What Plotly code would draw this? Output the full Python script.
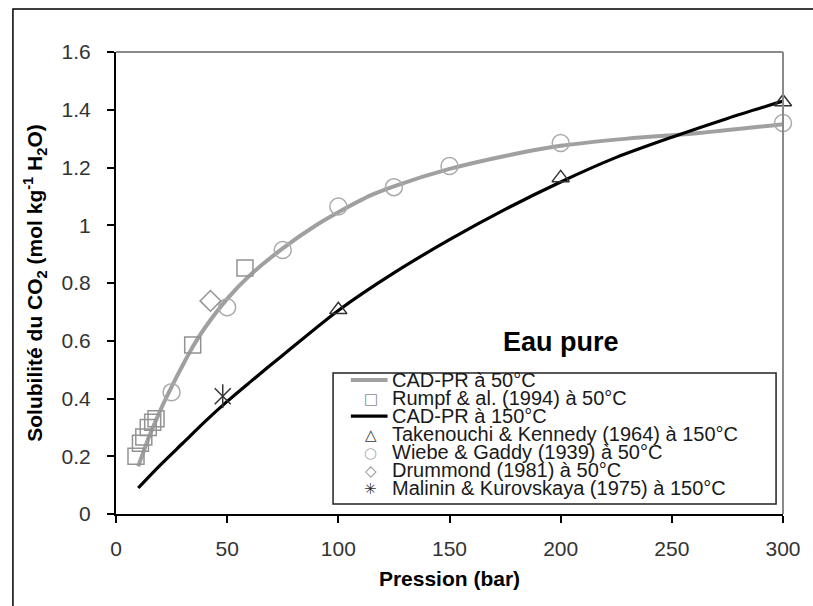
import plotly.graph_objects as go

# CAD-PR model at 50 °C
model50_p = [10, 15, 20, 25, 30, 35, 40, 50, 60, 75, 90, 100, 115, 125, 150, 175, 200, 230, 260, 300]
model50_s = [0.165, 0.27, 0.36, 0.44, 0.515, 0.585, 0.645, 0.745, 0.825, 0.92, 1.0, 1.045, 1.105, 1.135,
             1.195, 1.24, 1.275, 1.30, 1.318, 1.35]

# CAD-PR model at 150 °C
model150_p = [10, 20, 30, 40, 50, 60, 75, 100, 125, 150, 175, 200, 225, 250, 275, 300]
model150_s = [0.09, 0.17, 0.245, 0.32, 0.39, 0.455, 0.55, 0.705, 0.835, 0.95, 1.055, 1.15, 1.235, 1.305,
              1.37, 1.43]

# Rumpf & al. (1994) at 50 °C
rumpf_p = [9, 11, 12.5, 14.5, 16.5, 18, 34.5, 58]
rumpf_s = [0.20, 0.245, 0.267, 0.30, 0.318, 0.33, 0.585, 0.852]

# Takenouchi & Kennedy (1964) at 150 °C
taken_p = [100, 200, 300]
taken_s = [0.707, 1.164, 1.427]

# Wiebe & Gaddy (1939) at 50 °C
wiebe_p = [25, 50, 75, 100, 125, 150, 200, 300]
wiebe_s = [0.422, 0.716, 0.914, 1.065, 1.132, 1.205, 1.285, 1.354]

# Drummond (1981) at 50 °C
drum_p = [42.5]
drum_s = [0.738]

# Malinin & Kurovskaya (1975) at 150 °C
malin_p = [48]
malin_s = [0.408]

# Legend entries
legend_labels = ["CAD-PR à 50°C", "Rumpf & al. (1994) à 50°C", "CAD-PR à 150°C",
                 "Takenouchi & Kennedy (1964) à 150°C", "Wiebe & Gaddy (1939) à 50°C",
                 "Drummond (1981) à 50°C", "Malinin & Kurovskaya (1975) à 150°C"]

GRAY = "#a0a0a0"
DARK = "#333333"
FONT = "Arial, Liberation Sans, sans-serif"

fig = go.Figure()
fig.add_trace(go.Scatter(x=model50_p, y=model50_s, mode="lines", name=legend_labels[0],
                         line=dict(color=GRAY, width=4, shape="spline", smoothing=0.8)))
fig.add_trace(go.Scatter(x=model150_p, y=model150_s, mode="lines", name=legend_labels[2],
                         line=dict(color="black", width=3.2, shape="spline", smoothing=0.8)))
fig.add_trace(go.Scatter(x=rumpf_p, y=rumpf_s, mode="markers", name=legend_labels[1],
                         marker=dict(symbol="square-open", size=16, color="#939393", line=dict(width=1.5)),
                         cliponaxis=False))
fig.add_trace(go.Scatter(x=taken_p, y=taken_s, mode="markers", name=legend_labels[3],
                         marker=dict(symbol="triangle-up-open", size=15, color=DARK, line=dict(width=1.5)),
                         cliponaxis=False))
fig.add_trace(go.Scatter(x=wiebe_p, y=wiebe_s, mode="markers", name=legend_labels[4],
                         marker=dict(symbol="circle-open", size=17, color="#aaaaaa", line=dict(width=1.5)),
                         cliponaxis=False))
fig.add_trace(go.Scatter(x=drum_p, y=drum_s, mode="markers", name=legend_labels[5],
                         marker=dict(symbol="diamond-open", size=16, color="#939393", line=dict(width=1.5)),
                         cliponaxis=False))
fig.add_trace(go.Scatter(x=malin_p, y=malin_s, mode="markers", name=legend_labels[6],
                         marker=dict(symbol="x-thin-open", size=16, color=DARK, line=dict(width=1.5)),
                         cliponaxis=False))
fig.add_trace(go.Scatter(x=malin_p, y=malin_s, mode="markers", name=legend_labels[6],
                         marker=dict(symbol="line-ns-open", size=17, color=DARK, line=dict(width=1.5)),
                         cliponaxis=False))
for tr in fig.data:
    tr.showlegend = False

L, T, PW, PH = 116, 52, 673, 462


def px_x(px):
    return (px - L) / PW


def px_y(py):
    return (T + PH - py) / PH


fig.update_layout(
    width=813, height=606,
    margin=dict(l=L, r=813 - L - PW, t=T, b=606 - T - PH),
    paper_bgcolor="white", plot_bgcolor="white",
    font=dict(family=FONT, color=DARK),
    showlegend=False,
    xaxis=dict(range=[0, 300], dtick=50, showgrid=False, zeroline=False,
               showline=True, linecolor="black", linewidth=2,
               ticks="outside", ticklen=7, tickcolor="black", tickwidth=1.5,
               ticklabelstandoff=8,
               tickfont=dict(size=21, color=DARK),
               title=dict(text="<b>Pression (bar)</b>", font=dict(size=21, color="black"), standoff=12)),
    yaxis=dict(range=[0, 1.6], dtick=0.2, showgrid=False, zeroline=False,
               showline=True, linecolor="black", linewidth=2,
               ticks="outside", ticklen=7, tickcolor="black", tickwidth=1.5,
               ticklabelstandoff=12,
               tickfont=dict(size=21, color=DARK),
               title=dict(text="<b>Solubilité du CO<sub>2</sub> (mol kg<sup>-1</sup> H<sub>2</sub>O)</b>",
                          font=dict(size=21, color="black"), standoff=13)),
)

# Plot-area border (top and right) and outer chart frame
fig.add_shape(type="line", xref="paper", yref="paper", x0=0, x1=1, y0=1, y1=1,
              line=dict(color="#8a8a8a", width=2))
fig.add_shape(type="line", xref="paper", yref="paper", x0=1, x1=1, y0=0, y1=1,
              line=dict(color="#8a8a8a", width=2))
fig.add_shape(type="rect", xref="paper", yref="paper", x0=px_x(12), x1=1.2,
              y0=-0.3, y1=px_y(9), line=dict(color="black", width=1.5), layer="below")

fig.add_annotation(text="<b>Eau pure</b>", xref="paper", yref="paper",
                   x=px_x(565), y=px_y(342), showarrow=False, xanchor="center", yanchor="middle",
                   font=dict(family=FONT, size=27, color="black"))

# Legend box
fig.add_shape(type="rect", xref="paper", yref="paper", x0=px_x(335), x1=px_x(782),
              y0=px_y(504), y1=px_y(373), line=dict(color="#222222", width=1.5),
              fillcolor="white", layer="above")

row0, step = 380, 18.05
glyphs = [("line", GRAY, 4), ("□", "#8a8a8a", 0), ("line", "black", 3.2), ("△", DARK, 0),
          ("○", "#aaaaaa", 0), ("◇", "#8a8a8a", 0), ("✳", DARK, 0)]
for i, (label, (g, col, w)) in enumerate(zip(legend_labels, glyphs)):
    yc = row0 + i * step
    if g == "line":
        fig.add_shape(type="line", xref="paper", yref="paper", x0=px_x(353), x1=px_x(390),
                      y0=px_y(yc), y1=px_y(yc), line=dict(color=col, width=w), layer="above")
    else:
        fig.add_annotation(text=g, xref="paper", yref="paper", x=px_x(373), y=px_y(yc + 1),
                           showarrow=False, xanchor="center", yanchor="middle",
                           font=dict(family="DejaVu Sans", size=15, color=col))
    fig.add_annotation(text=label, xref="paper", yref="paper", x=px_x(392), y=px_y(yc),
                       showarrow=False, xanchor="left", yanchor="middle",
                       font=dict(family=FONT, size=20, color="#1a1a1a"))

fig.write_html("out.html")
